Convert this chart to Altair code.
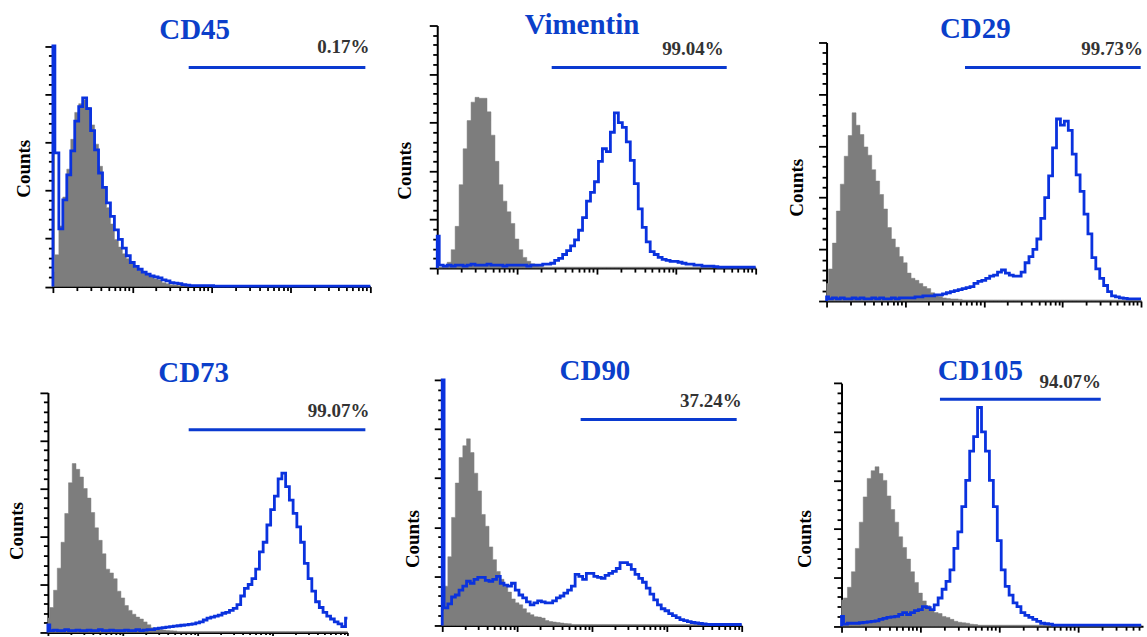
import altair as alt
import pandas as pd

# ---------------- data ----------------
# bin centres, in decades of fluorescence (channel = 10 ** decade)
BIN_LOG10 = [0.00, 0.05, 0.10, 0.15, 0.20, 0.25, 0.30, 0.35, 0.40, 0.45,
             0.50, 0.55, 0.60, 0.65, 0.70, 0.75, 0.80, 0.85, 0.90, 0.95,
             1.00, 1.05, 1.10, 1.15, 1.20, 1.25, 1.30, 1.35, 1.40, 1.45,
             1.50, 1.55, 1.60, 1.65, 1.70, 1.75, 1.80, 1.85, 1.90, 1.95,
             2.00, 2.05, 2.10, 2.15, 2.20, 2.25, 2.30, 2.35, 2.40, 2.45,
             2.50, 2.55, 2.60, 2.65, 2.70, 2.75, 2.80, 2.85, 2.90, 2.95,
             3.00, 3.05, 3.10, 3.15, 3.20, 3.25, 3.30, 3.35, 3.40, 3.45,
             3.50, 3.55, 3.60, 3.65, 3.70, 3.75, 3.80, 3.85, 3.90, 3.95,
             4.00]

CD45_ISOTYPE = [15, 33, 63, 93, 122, 153, 181, 190, 194, 186,
                168, 148, 125, 103, 82, 65, 49, 41, 34, 29,
                25, 20, 17, 15, 12, 10, 8, 7, 4, 3,
                2, 1.5, 1, 0.5, 0, 0, 0, 0, 0, 0,
                0, 0, 0, 0, 0, 0, 0, 0, 0, 0,
                0, 0, 0, 0, 0, 0, 0, 0, 0, 0,
                0, 0, 0, 0, 0, 0, 0, 0, 0, 0,
                0, 0, 0, 0, 0, 0, 0, 0, 0, 0,
                0]
CD45_STAINED = [250, 139, 60, 90, 116, 141, 172, 187, 196, 185,
                162, 142, 118, 103, 87, 73, 59, 49, 40, 32,
                25, 21, 18, 15, 13, 11, 10, 9, 7, 6,
                4, 3.5, 3, 2, 1.5, 1, 1, 1, 1, 1,
                1, 0.5, 0.5, 0.5, 0.5, 0.5, 0.5, 0.5, 0.5, 0.5,
                0.5, 0.5, 0.5, 0.5, 0.5, 0.5, 0.5, 0.5, 0.5, 0.5,
                0.5, 0.5, 0.5, 0.5, 0.5, 0.5, 0.5, 0.5, 0.5, 0.5,
                0.5, 0.5, 0.5, 0.5, 0.5, 0.5, 0.5, 0.5, 0.5, 0.5,
                0.5]

VIM_ISOTYPE = [0, 0.5, 1, 6, 19, 43, 86, 123, 152, 171,
               176, 175, 175, 161, 137, 110, 86, 69, 58, 46,
               30, 19, 11, 7, 4.5, 3, 2, 1, 1, 1,
               1, 1, 1, 1, 1, 1, 1, 1, 1, 1,
               1, 1, 1, 1, 1, 1, 1, 1, 1, 1,
               1, 1, 1, 1, 1, 1, 1, 1, 1, 1,
               1, 1, 1, 1, 1, 1, 1, 1, 1, 1,
               1, 1, 1, 1, 1, 1, 1, 1, 1, 1,
               1]
VIM_STAINED = [33, 3, 2, 3, 2, 3, 3, 2, 3, 4,
               3, 3, 3, 4, 3, 3, 3, 2, 3, 3,
               3, 3, 3, 2, 3, 3, 3, 4, 4, 5,
               8, 10, 14, 18, 23, 29, 39, 52, 69, 78,
               89, 110, 123, 120, 140, 160, 150, 145, 130, 111,
               87, 61, 42, 27, 17, 14, 11, 9, 8, 7,
               7, 6, 5, 4, 4, 3, 3, 2, 2, 2,
               1.5, 1, 1, 1, 1, 1, 1, 1, 1, 1,
               1]

CD29_ISOTYPE = [17, 31, 56, 87, 113, 140, 160, 182, 170, 161,
                149, 141, 127, 116, 103, 89, 71, 60, 52, 43,
                37, 27, 22, 20, 17, 14, 12, 8, 6, 4.5,
                3, 2.5, 2, 2, 1.6, 1, 1, 1, 1, 1,
                1, 1, 1, 1, 1, 1, 1, 1, 1, 1,
                1, 1, 1, 1, 1, 1, 1, 1, 1, 1,
                1, 1, 1, 1, 1, 1, 1, 1, 1, 1,
                1, 1, 1, 1, 1, 1, 1, 1, 1, 1,
                1]
CD29_STAINED = [4, 2, 3, 2, 3, 2, 2, 3, 2, 3,
                2, 2, 3, 2, 3, 2, 2, 3, 2, 3,
                3, 3, 3, 4, 4, 5, 5, 5, 6, 6,
                7, 8, 9, 10, 11, 12, 13, 14, 17, 19,
                20, 22, 24, 25, 28, 30, 27, 25, 24, 24,
                28, 37, 43, 50, 60, 80, 100, 121, 148, 176,
                170, 174, 165, 142, 122, 106, 84, 65, 42, 31,
                22, 15, 9, 5, 4, 3, 2.5, 2, 2, 2,
                2]

CD73_ISOTYPE = [15, 26, 44, 67, 94, 124, 156, 176, 170, 162,
                150, 140, 125, 109, 96, 82, 66, 62, 56, 43,
                36, 28, 23, 19, 16, 14, 11, 8, 5, 4,
                3, 2.5, 2, 1.7, 1.5, 1, 1, 1, 1, 1,
                1, 1, 1, 1, 1, 1, 1, 1, 1, 1,
                1, 1, 1, 1, 1, 1, 1, 1, 1, 1,
                1, 1, 1, 1, 1, 1, 1, 1, 1, 1,
                1, 1, 1, 1, 1, 1, 1, 1, 1, 1,
                1]
CD73_STAINED = [8, 2, 2.5, 2, 2, 3, 2, 2, 2.5, 2,
                2, 2.5, 2, 2, 3, 2, 2, 2.5, 2, 2,
                2, 2.5, 2, 2, 3, 2, 2.5, 3, 3, 4,
                4.5, 5, 5.5, 6, 6.5, 7, 7.5, 8, 8.5, 9,
                10, 11, 13, 15, 16, 17, 18, 20, 21, 23,
                25, 29, 38, 46, 50, 56, 66, 84, 94, 112,
                128, 142, 160, 166, 152, 138, 124, 110, 94, 72,
                56, 43, 32, 26, 21, 17, 14, 11, 9, 6,
                15]

CD90_ISOTYPE = [15, 40, 70, 110, 145, 171, 183, 190, 176, 155,
                137, 113, 101, 80, 67, 55, 47, 40, 34, 27,
                23, 21, 17, 13, 11, 9, 8.5, 7.5, 5, 4,
                3.5, 3, 2.5, 2, 1.8, 1, 1, 1, 1, 1,
                1, 1, 1, 1, 1, 1, 1, 1, 1, 1,
                1, 1, 1, 1, 1, 1, 1, 1, 1, 1,
                1, 1, 1, 1, 1, 1, 1, 1, 1, 1,
                1, 1, 1, 1, 1, 1, 1, 1, 1, 1,
                1]
CD90_STAINED = [250, 18, 22, 29, 31, 36, 40, 45, 43, 47,
                49, 49, 46, 45, 47, 50, 43, 41, 40, 43,
                36, 31, 28, 24, 21, 23, 25, 24, 23, 23,
                25, 28, 30, 33, 36, 40, 52, 50, 47, 53,
                53, 50, 49, 48, 51, 53, 55, 58, 64, 64,
                62, 57, 52, 48, 44, 38, 32, 26, 21, 17,
                15, 12, 10, 8, 6, 5, 4, 3, 2.5, 2,
                1.5, 1.2, 1, 1, 1, 1, 1, 1, 1, 1,
                1]

# CD105 axis stops at 10^3.82 in the crop
CD105_ISOTYPE = [27, 29, 40, 56, 80, 107, 133, 152, 160, 164,
                 157, 150, 134, 120, 107, 92, 81, 69, 56, 45,
                 34, 26, 21, 17, 14, 13, 10, 9, 7, 5,
                 4, 3.5, 3, 2, 1.7, 1, 1, 1, 1, 1,
                 1, 1, 1, 1, 1, 1, 1, 1, 1, 1,
                 1, 1, 1, 1, 1, 1, 1, 1, 1, 1,
                 1, 1, 1, 1, 1, 1, 1, 1, 1, 1,
                 1, 1, 1, 1, 1, 1, 1]
CD105_STAINED = [10, 2, 3, 3, 3, 3.5, 4, 4.5, 5, 5.5,
                 7, 8, 9, 9.5, 10, 12, 14, 12, 14, 16,
                 17, 20, 19, 17, 22, 29, 38, 46, 58, 80,
                 97, 123, 150, 180, 195, 225, 200, 180, 150, 123,
                 88, 58, 41, 32, 24, 20, 14, 11, 9, 7,
                 5, 3, 2.5, 2, 1, 1, 1, 1, 1, 1,
                 1, 1, 1, 1, 1, 1, 1, 1, 1, 1,
                 1, 1, 1, 1, 1, 1, 1]

MARKERS = ["CD45", "Vimentin", "CD29", "CD73", "CD90", "CD105"]
ISOTYPE = [CD45_ISOTYPE, VIM_ISOTYPE, CD29_ISOTYPE, CD73_ISOTYPE, CD90_ISOTYPE, CD105_ISOTYPE]
STAINED = [CD45_STAINED, VIM_STAINED, CD29_STAINED, CD73_STAINED, CD90_STAINED, CD105_STAINED]
PERCENT_LABELS = ["0.17%", "99.04%", "99.73%", "99.07%", "37.24%", "94.07%"]
GATE_START = [51.4, 27.4, 57.7, 75.9, 70.6, 17.7]
GATE_END = [8650, 4328, 9908, 17378, 8570, 1936]
GATE_LEVEL = [227.7, 206.8, 225.9, 211.2, 209.7, 233.6]
LABEL_X = [9710, 3970, 10590, 19650, 10000, 1954]
LABEL_LEVEL = [242.2, 219.1, 237.5, 224.7, 222.6, 245.2]
AXIS_MAX = [10000, 10000, 10000, 10000, 10000, 6650]
COUNT_MAX = 250

# ---------------- layout / style ----------------
CELL_W, CELL_H = 382, 318
LAYOUT = [
    dict(x0=53, w=318, top=45.5, bottom=286.5, tdx=4, tdy=68, cpad=11, cy=168, tmaj=6, tmin=4),
    dict(x0=56, w=319, top=25, bottom=268, tdx=10, tdy=63, cpad=14, cy=170, tmaj=6, tmin=4),
    dict(x0=64, w=315, top=42, bottom=301, tdx=22, tdy=67, cpad=11, cy=187, tmaj=6, tmin=4),
    dict(x0=48, w=300, top=74.7, bottom=315, tdx=3, tdy=93, cpad=13, cy=213, tmaj=3, tmin=2),
    dict(x0=61, w=300, top=62, bottom=308, tdx=23, tdy=91, cpad=11, cy=221, tmaj=6, tmin=4),
    dict(x0=79, w=302, top=65.3, bottom=308.7, tdx=27, tdy=91, cpad=18, cy=221, tmaj=6, tmin=4),
]
GRAY = "#7d7d7d"
BLUE = "#0a32de"
GATE_BLUE = "#0a3ad0"
TITLE_BLUE = "#0b3fca"
SERIF = "Liberation Serif"

LOG_TICKS = [m * 10 ** e for e in range(4) for m in range(1, 10)] + [10000]
COUNT_TICKS = list(range(0, COUNT_MAX + 1, 10))


def panel(i):
    lay = LAYOUT[i]
    iso, stn = ISOTYPE[i], STAINED[i]
    xs = [10 ** d for d in BIN_LOG10[:len(iso)]]
    hist = pd.DataFrame({"x": xs, "isotype": iso})
    # stained outline starts from the baseline at the left edge
    outline = pd.DataFrame({"x": [1] + xs, "stained": [0] + stn,
                            "i": list(range(len(xs) + 1))})
    gate = pd.DataFrame({"x": [GATE_START[i]], "x_end": [GATE_END[i]], "level": [GATE_LEVEL[i]]})
    label = pd.DataFrame({"x": [LABEL_X[i]], "level": [LABEL_LEVEL[i]], "label": [PERCENT_LABELS[i]]})

    x_scale = alt.Scale(type="log", domain=[1, AXIS_MAX[i]], nice=False,
                        range=[lay["x0"], lay["x0"] + lay["w"]])
    y_scale = alt.Scale(domain=[0, COUNT_MAX], nice=False, zero=False,
                        range=[lay["bottom"], lay["top"]])
    x_axis = alt.Axis(
        values=[t for t in LOG_TICKS if t <= AXIS_MAX[i]], labels=False, title=None, grid=False,
        domainColor="black", domainWidth=2, tickColor="black", tickWidth=1.8,
        tickSize={"condition": {"test": "indexof([1,10,100,1000,10000], datum.value) >= 0",
                                "value": lay["tmaj"]}, "value": lay["tmin"]},
        offset=-(CELL_H - lay["bottom"]))
    y_axis = alt.Axis(
        values=COUNT_TICKS, labels=False, title="Counts", grid=False,
        titleFont=SERIF, titleFontWeight="bold", titleFontSize=19, titleColor="black",
        titlePadding=lay["cpad"], titleY=lay["cy"],
        domainColor="black", domainWidth=2, tickColor="black", tickWidth=1.8,
        tickSize={"condition": {"test": "datum.value % 50 === 0", "value": 8}, "value": 4.5},
        offset=-lay["x0"])

    def xenc(field="x"):
        return alt.X(f"{field}:Q", scale=x_scale, axis=x_axis)

    def yenc(field):
        return alt.Y(f"{field}:Q", scale=y_scale, axis=y_axis, stack=None)

    area = alt.Chart(hist).mark_area(interpolate="step", color=GRAY, opacity=1,
                                     stroke=GRAY, strokeWidth=0.5).encode(
        x=xenc(), y=yenc("isotype"))
    line = alt.Chart(outline).mark_line(interpolate="step", color=BLUE, strokeWidth=2.8).encode(
        x=xenc(), y=yenc("stained"), order="i:Q")
    rule = alt.Chart(gate).mark_rule(color=GATE_BLUE, strokeWidth=3).encode(
        x=xenc(), x2="x_end:Q", y=yenc("level"))
    text = alt.Chart(label).mark_text(align="right", baseline="alphabetic", font=SERIF,
                                      fontWeight="bold", fontSize=19, color="#333333").encode(
        x=xenc(), y=yenc("level"), text="label:N")

    return alt.layer(area, line, rule, text).properties(
        width=CELL_W, height=CELL_H,
        title=alt.TitleParams(text=MARKERS[i], font=SERIF, fontWeight="bold", fontSize=29,
                              color=TITLE_BLUE, anchor="middle", frame="group", offset=0,
                              baseline="alphabetic", dx=lay["tdx"], dy=lay["tdy"]))


chart = alt.concat(*[panel(i) for i in range(6)], columns=3, spacing=0, bounds="flush").properties(
    padding=0, background="white").configure_view(strokeOpacity=0)

chart.save("out.html", embed_options={"renderer": "svg", "actions": False})
